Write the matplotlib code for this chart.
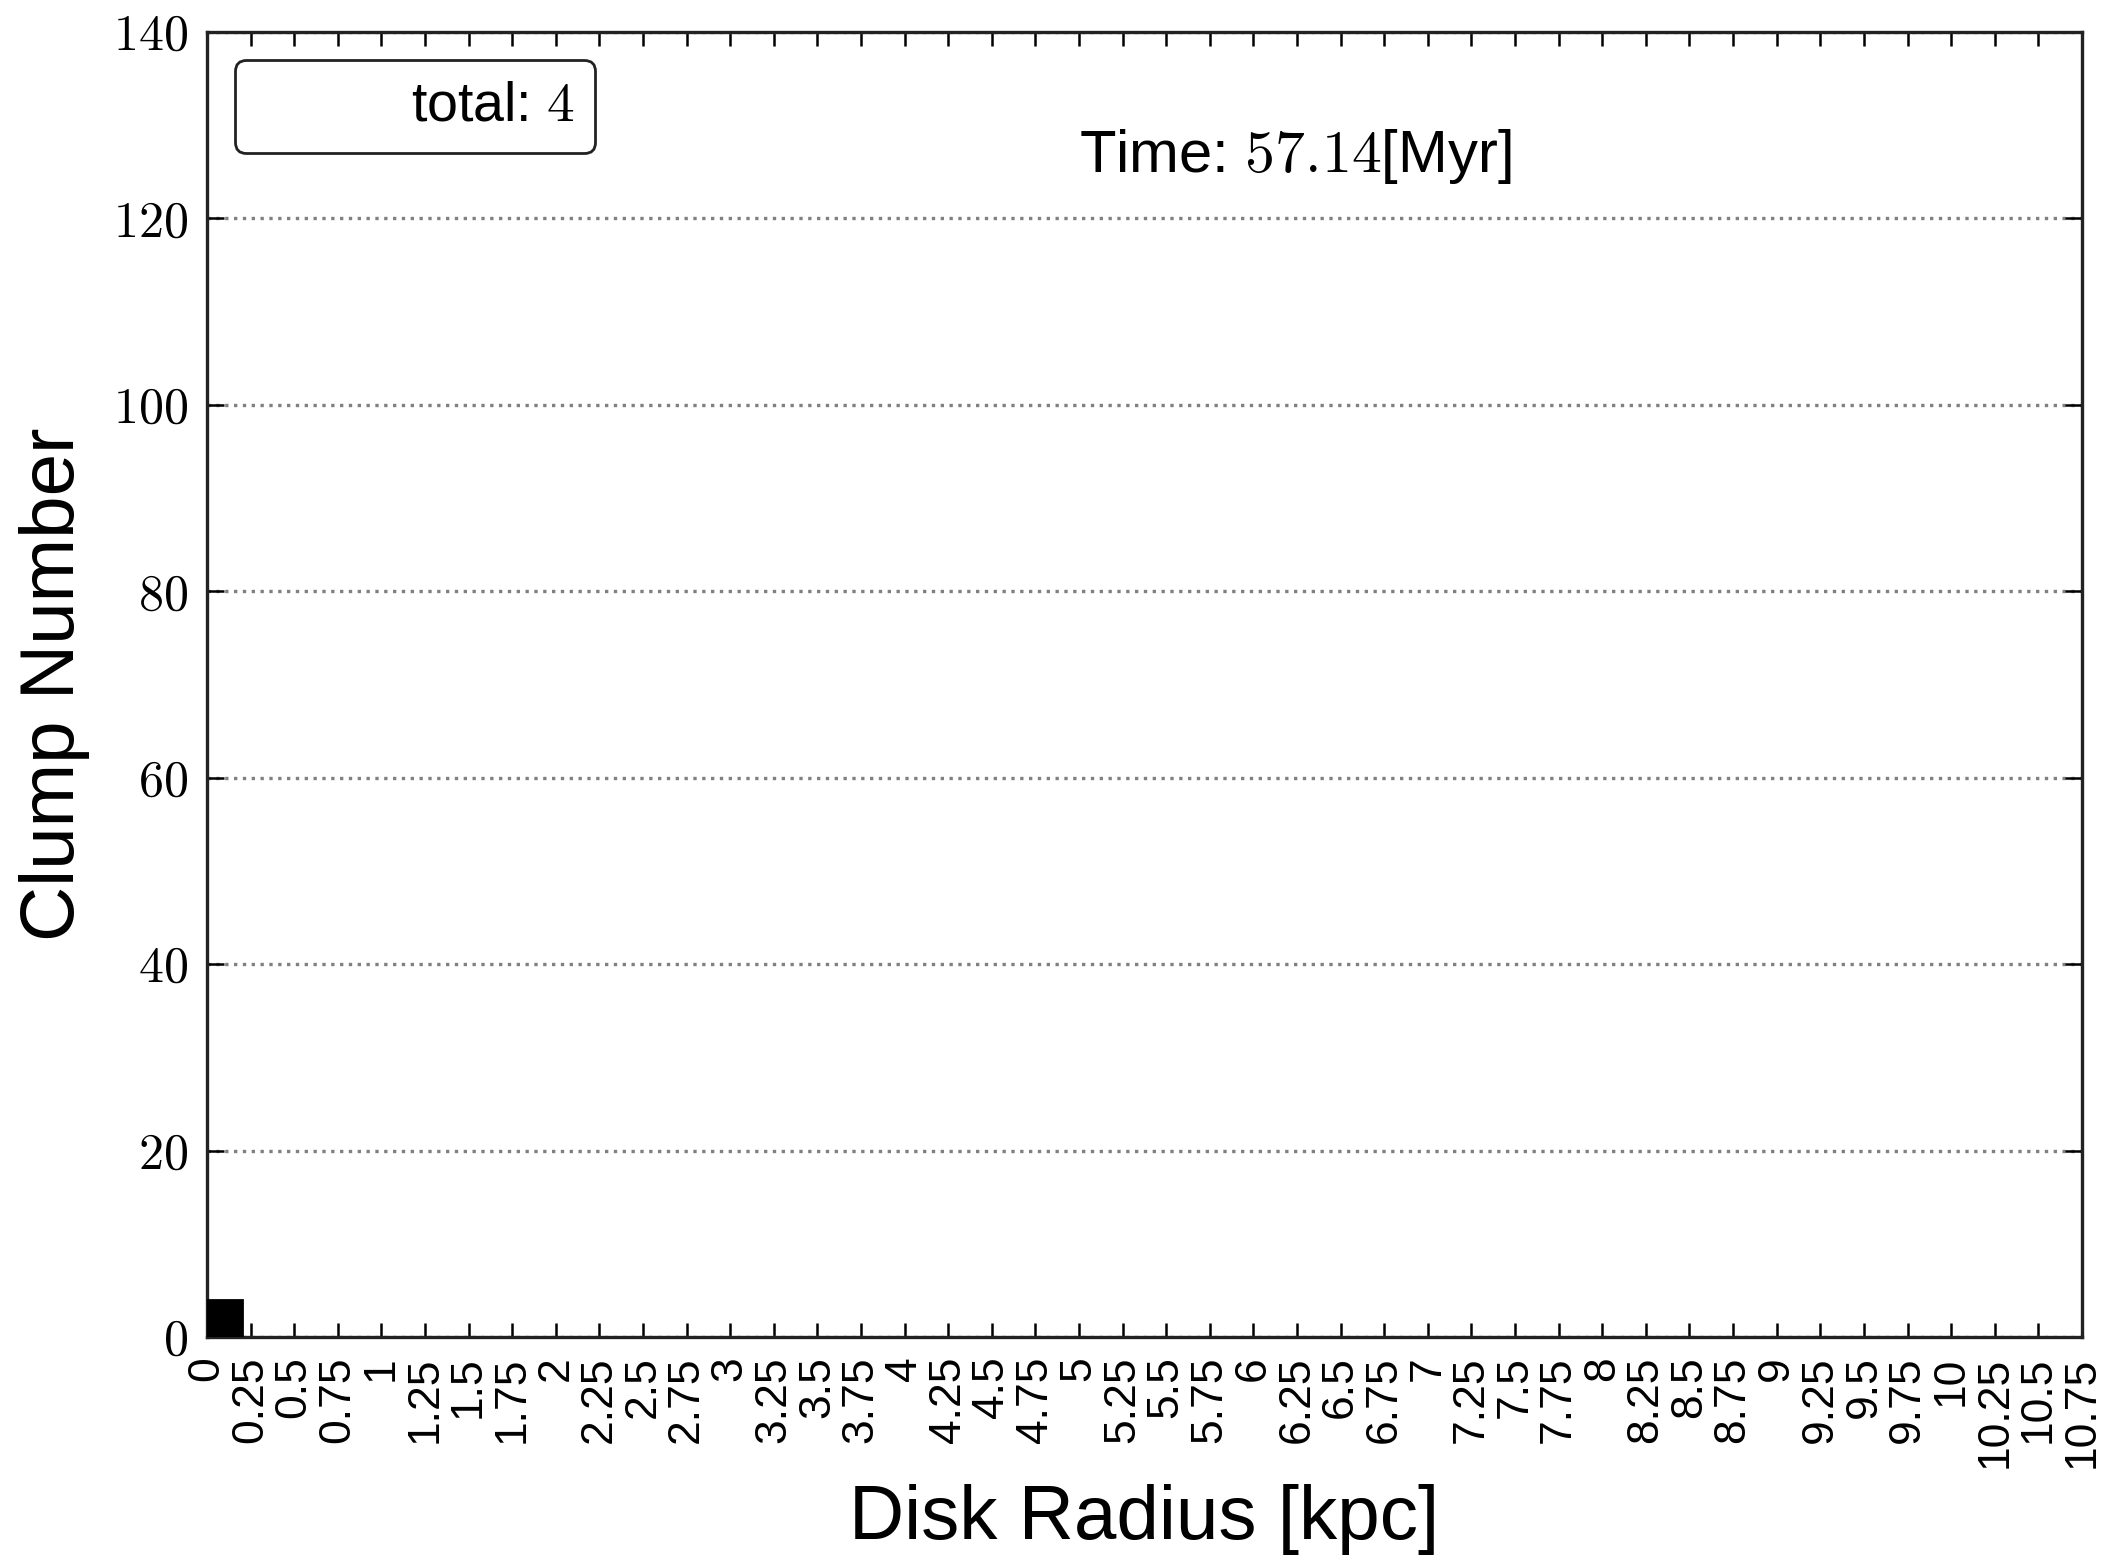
import numpy as np
import matplotlib
matplotlib.use('Agg')
import matplotlib.pyplot as plt
from matplotlib.lines import Line2D

plt.rcParams['font.family'] = ['Liberation Sans', 'DejaVu Sans']
plt.rcParams['mathtext.fontset'] = 'cm'

# clump counts per radius bin
bin_left = [0.0]
bin_width = 0.2
clump_counts = [4]
total_clumps = 4
time_myr = 57.14

x_ticks = np.arange(0, 11.0, 0.25)
x_labels = ['%g' % v for v in x_ticks]
y_ticks = [0, 20, 40, 60, 80, 100, 120, 140]

fig = plt.figure(figsize=(10.58, 7.79), dpi=200)
ax = fig.add_axes([0.0978, 0.1418, 0.8861, 0.8377])

ax.bar(bin_left, clump_counts, width=bin_width, align='edge', color='black', edgecolor='black', zorder=3)

ax.set_xlim(0, 10.75)
ax.set_ylim(0, 140)
ax.set_xticks(x_ticks)
ax.set_xticklabels(x_labels, rotation=90, fontsize=16)
ax.set_yticks(y_ticks)
ax.set_yticklabels(['$%d$' % v for v in y_ticks], fontsize=18)

ax.tick_params(axis='x', direction='in', length=5, width=0.9, top=True, pad=7)
ax.tick_params(axis='y', direction='in', length=6, width=0.9, right=True, pad=7)
for s in ax.spines.values():
    s.set_linewidth(1.2)
    s.set_color('#222222')

ax.yaxis.grid(True, linestyle=':', color='0.5', linewidth=1.2)
ax.set_axisbelow(True)

ax.set_xlabel('Disk Radius [kpc]', fontsize=27.5, labelpad=6)
ax.set_ylabel('Clump Number', fontsize=27.5, labelpad=8)

# legend with an empty handle, only the total is shown
h = Line2D([], [], linestyle='none', marker='none')
ax.legend([h], ['total: $%d$' % total_clumps], loc='upper left', fontsize=20,
          fancybox=True, framealpha=1, edgecolor='#222222', borderpad=0.37)

ax.text(5, 125, 'Time: $%.2f$[Myr]' % time_myr, fontsize=21.5, ha='left', va='baseline')

plt.savefig('out.png', dpi=200)
